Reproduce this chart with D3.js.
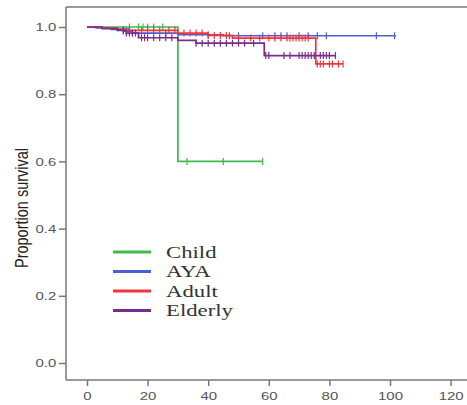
<!DOCTYPE html>
<html><head><meta charset="utf-8">
<script src="https://cdn.jsdelivr.net/npm/d3@7"></script>
<style>body{margin:0;background:#fff}svg{display:block}</style>
</head><body>
<script>
// ---- data ----
const groups = ["Child", "AYA", "Adult", "Elderly"];
const colors = ["#3dba4c", "#4a60d2", "#f0353d", "#7b2b8c"];
// step changes: [time, survival after]
const childSteps = [[0, 1.0], [30, 0.6]];
const childEnd = 58;
const childCensor = [14, 17, 18.5, 20, 22, 25, 33, 45, 58];
const ayaSteps = [[0, 1.0], [3, 0.997], [8, 0.993], [12, 0.988], [15, 0.982], [30, 0.977], [45, 0.974]];
const ayaEnd = 102;
const ayaCensor = [12, 13, 14, 15, 26, 40, 47, 50, 58, 62, 64, 66, 70, 73, 76, 79, 95.5, 101.5];
const adultSteps = [[0, 1.0], [5, 0.997], [10, 0.994], [14, 0.99], [30, 0.982], [40, 0.975], [48, 0.967], [75.5, 0.89]];
const adultEnd = 84.5;
const adultCensor = [18, 20, 22, 24, 27, 29, 32, 34, 36, 38, 40, 42, 44, 46, 50, 54, 57, 60, 62, 64, 66, 67, 68, 69, 70, 71, 72, 73, 76, 77, 78, 80, 81, 83, 84.5];
const elderlySteps = [[0, 1.0], [5, 0.995], [10, 0.99], [13, 0.982], [17, 0.968], [30, 0.96], [36, 0.952], [58.5, 0.915]];
const elderlyEnd = 82;
const elderlyCensor = [12, 13, 14, 15, 16, 18, 19, 20, 22, 24, 26, 28, 36, 38, 40, 42, 44, 46, 48, 50, 52, 55, 59, 60, 65, 67, 70, 71, 72, 73, 74, 75, 77, 78, 79, 80, 82];
const xTicks = [0, 20, 40, 60, 80, 100, 120];
const yTicks = [0.0, 0.2, 0.4, 0.6, 0.8, 1.0];

const series = [
  {steps: childSteps, end: childEnd, censor: childCensor},
  {steps: ayaSteps, end: ayaEnd, censor: ayaCensor},
  {steps: adultSteps, end: adultEnd, censor: adultCensor},
  {steps: elderlySteps, end: elderlyEnd, censor: elderlyCensor}
];

const W = 467, H = 405;
const svg = d3.select("body").append("svg").attr("width", W).attr("height", H);
const x = d3.scaleLinear().domain([0, 120]).range([87, 450.6]);
const y = d3.scaleLinear().domain([0, 1]).range([363, 27]);

// frame
const frame = svg.append("g");
frame.append("line").attr("x1", 66).attr("x2", 66).attr("y1", 7).attr("y2", 380).attr("stroke", "#777").attr("stroke-width", 1.5);
frame.append("line").attr("x1", 66).attr("x2", 470).attr("y1", 380).attr("y2", 380).attr("stroke", "#777").attr("stroke-width", 1.5);
frame.append("line").attr("x1", 66).attr("x2", 470).attr("y1", 7).attr("y2", 7).attr("stroke", "#777").attr("stroke-width", 1.5);

// axes
const yAxis = svg.append("g").attr("transform", "translate(66,0)")
  .call(d3.axisLeft(y).tickValues(yTicks).tickFormat(d3.format(".1f")).tickSize(7).tickPadding(2));
const xAxis = svg.append("g").attr("transform", "translate(0,380)")
  .call(d3.axisBottom(x).tickValues(xTicks).tickFormat(d3.format("d")).tickSize(6).tickPadding(6));
[yAxis, xAxis].forEach(a => {
  a.select(".domain").remove();
  a.selectAll(".tick line").attr("stroke", "#777").attr("stroke-width", 1.5);
  a.selectAll(".tick text").attr("fill", "#555").style("font-family", "Liberation Sans, Arial, sans-serif").style("font-size", "11.5px");
});
xAxis.selectAll(".tick text").attr("transform", "scale(1.3,1)");
yAxis.selectAll(".tick text").attr("x", -7.5).attr("transform", "scale(1.3,1)");

svg.append("text").attr("transform", "translate(28,208) rotate(-90) scale(1,1.25)")
  .attr("text-anchor", "middle").style("font-family", "Liberation Sans, Arial, sans-serif")
  .style("font-size", "14.5px").attr("fill", "#222").text("Proportion survival");

// curves
function survAt(steps, t) {
  let s = steps[0][1];
  for (const [tt, v] of steps) if (tt <= t) s = v;
  return s;
}
series.forEach((s, i) => {
  const pts = [];
  s.steps.forEach(([t, v], k) => {
    if (k > 0) pts.push([t, s.steps[k - 1][1]]);
    pts.push([t, v]);
  });
  pts.push([s.end, s.steps[s.steps.length - 1][1]]);
  const g = svg.append("g");
  g.append("path").attr("d", d3.line().x(d => x(d[0])).y(d => y(d[1]))(pts))
    .attr("fill", "none").attr("stroke", colors[i]).attr("stroke-width", 1.7);
  g.selectAll("line.c").data(s.censor).join("line").attr("class", "c")
    .attr("x1", d => x(d)).attr("x2", d => x(d))
    .attr("y1", d => y(survAt(s.steps, d)) - 3.5).attr("y2", d => y(survAt(s.steps, d)) + 3.5)
    .attr("stroke", colors[i]).attr("stroke-width", 1.2);
});

// legend
const leg = svg.append("g");
groups.forEach((gname, i) => {
  const yy = 252 + i * 19.5;
  leg.append("line").attr("x1", 113).attr("x2", 151).attr("y1", yy).attr("y2", yy)
    .attr("stroke", colors[i]).attr("stroke-width", 3);
  leg.append("text").attr("transform", `translate(166,${yy + 5.5}) scale(1.3,1)`)
    .style("font-family", "Liberation Serif, Times New Roman, serif").style("font-size", "17.5px")
    .attr("fill", "#333").text(gname);
});
</script>
</body></html>
